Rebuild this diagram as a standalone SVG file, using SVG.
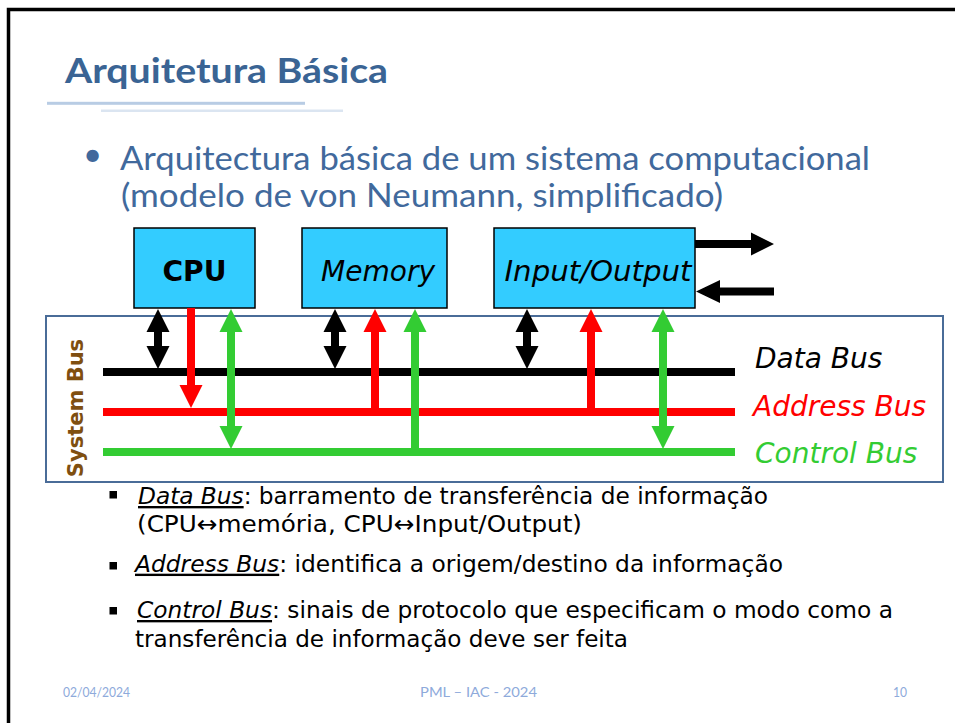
<svg xmlns="http://www.w3.org/2000/svg" width="955" height="723" viewBox="0 0 955 723">
  <style>
    .frame { fill: none; stroke: #000; stroke-width: 3.5; }
    .title { font-family: Lato, "Open Sans", sans-serif; font-weight: bold; font-size: 35px; fill: #3A6494; }
    .sub { font-family: Lato, "Open Sans", sans-serif; font-size: 33px; fill: #41699C; }
    .box { fill: #33CCFF; stroke: #000; stroke-width: 1.5; }
    .boxlabel { font-family: "DejaVu Sans", Verdana, sans-serif; font-size: 28px; fill: #000; text-anchor: middle; }
    .buslabel { font-family: "DejaVu Sans", Verdana, sans-serif; font-size: 28px; font-style: italic; }
    .item { font-family: "DejaVu Sans", Verdana, sans-serif; font-size: 23.5px; fill: #000; }
    .item .em { font-style: italic; text-decoration: underline; }
    .foot { font-family: Lato, "Open Sans", sans-serif; font-size: 13px; fill: #8EAADB; }
    .black { fill: #000; }
    .red { fill: #FF0000; }
    .green { fill: #33CC33; }
  </style>

  <!-- slide frame (only top and left edges fall inside the view) -->
  <rect class="frame" x="8.5" y="9.5" width="1000" height="800"/>

  <!-- title with its two rules -->
  <g id="title">
    <text class="title" x="65" y="83.3" textLength="323" lengthAdjust="spacingAndGlyphs">Arquitetura Básica</text>
    <rect x="47" y="101.8" width="258" height="3" fill="#B8CCE4"/>
    <rect x="101" y="109.5" width="242" height="2.5" fill="#DBE5F1"/>
  </g>

  <!-- heading bullet -->
  <g id="heading">
    <text class="sub" x="83" y="166">•</text>
    <text class="sub" x="120" y="170" textLength="750" lengthAdjust="spacingAndGlyphs">Arquitectura básica de um sistema computacional</text>
    <text class="sub" x="121" y="207" textLength="602" lengthAdjust="spacingAndGlyphs">(modelo de von Neumann, simplificado)</text>
  </g>

  <!-- system bus enclosure -->
  <g id="system-bus">
    <rect x="46" y="316" width="897" height="166" fill="none" stroke="#4A6C98" stroke-width="2"/>
    <text x="83" y="408" transform="rotate(-90 83 408)" text-anchor="middle" font-family="'DejaVu Sans', Verdana, sans-serif" font-weight="bold" font-size="21" fill="#7F4F10">System Bus</text>
  </g>

  <!-- components -->
  <g id="cpu">
    <rect class="box" x="134" y="228" width="121" height="80"/>
    <text class="boxlabel" x="194.5" y="281" font-weight="bold" textLength="64" lengthAdjust="spacingAndGlyphs">CPU</text>
  </g>
  <g id="memory">
    <rect class="box" x="302" y="228" width="145" height="80"/>
    <text class="boxlabel" x="378" y="281" font-style="italic" textLength="114" lengthAdjust="spacingAndGlyphs">Memory</text>
  </g>
  <g id="io">
    <rect class="box" x="494" y="228" width="201" height="80"/>
    <text class="boxlabel" x="598" y="281" font-style="italic" textLength="187" lengthAdjust="spacingAndGlyphs">Input/Output</text>
  </g>

  <!-- bus lines with labels -->
  <g id="data-bus">
    <rect class="black" x="103" y="368" width="632" height="8"/>
    <text class="buslabel" x="755" y="368" fill="#000">Data Bus</text>
  </g>
  <g id="address-bus">
    <rect class="red" x="103" y="408" width="632" height="8"/>
    <text class="buslabel" x="753" y="416" fill="#FF0000">Address Bus</text>
  </g>
  <g id="control-bus">
    <rect class="green" x="103" y="448" width="632" height="8"/>
    <text class="buslabel" x="755" y="463" fill="#33CC33">Control Bus</text>
  </g>

  <!-- connectors: block arrows between components and buses -->
  <g id="connectors">
    <!-- data (black, two-way) -->
    <polygon class="black" points="158,309 169.5,332 162,332 162,346 169.5,346 158,369 146.5,346 154,346 154,332 146.5,332"/>
    <polygon class="black" points="335,309 346.5,332 339,332 339,346 346.5,346 335,369 323.5,346 331,346 331,332 323.5,332"/>
    <polygon class="black" points="527,309 538.5,332 531,332 531,346 538.5,346 527,369 515.5,346 523,346 523,332 515.5,332"/>
    <!-- address (red, one-way) -->
    <polygon class="red" points="187,308 195,308 195,385 202.5,385 191,408 179.5,385 187,385"/>
    <polygon class="red" points="375,309 386.5,332 379,332 379,412 371,412 371,332 363.5,332"/>
    <polygon class="red" points="591,309 602.5,332 595,332 595,412 587,412 587,332 579.5,332"/>
    <!-- control (green) -->
    <polygon class="green" points="231,309 242.5,332 235,332 235,426 242.5,426 231,449 219.5,426 227,426 227,332 219.5,332"/>
    <polygon class="green" points="415,309 426.5,332 419,332 419,452 411,452 411,332 403.5,332"/>
    <polygon class="green" points="663,309 674.5,332 667,332 667,426 674.5,426 663,449 651.5,426 659,426 659,332 651.5,332"/>
    <!-- I/O external link -->
    <polygon class="black" points="695,240 751,240 751,232.5 774,244 751,255.5 751,248 695,248"/>
    <polygon class="black" points="696,291.5 720,280 720,287.5 774,287.5 774,295.5 720,295.5 720,303"/>
  </g>

  <!-- bus descriptions -->
  <g id="notes">
    <rect x="109.5" y="491" width="7.5" height="7.5"/>
    <text class="item" x="138" y="504" textLength="630" lengthAdjust="spacingAndGlyphs"><tspan class="em">Data Bus</tspan>: barramento de transferência de informação</text>
    <text class="item" x="137" y="531.5" textLength="445" lengthAdjust="spacingAndGlyphs">(CPU↔memória, CPU↔Input/Output)</text>
    <rect x="109.5" y="562" width="7.5" height="7.5"/>
    <text class="item" x="135" y="571.7" textLength="648" lengthAdjust="spacingAndGlyphs"><tspan class="em">Address Bus</tspan>: identifica a origem/destino da informação</text>
    <rect x="109.5" y="607" width="7.5" height="7.5"/>
    <text class="item" x="137" y="618" textLength="756" lengthAdjust="spacingAndGlyphs"><tspan class="em">Control Bus</tspan>: sinais de protocolo que especificam o modo como a</text>
    <text class="item" x="135" y="646.7" textLength="493" lengthAdjust="spacingAndGlyphs">transferência de informação deve ser feita</text>
  </g>

  <!-- footer -->
  <g id="footer">
    <text class="foot" x="63" y="697" textLength="67" lengthAdjust="spacingAndGlyphs">02/04/2024</text>
    <text class="foot" x="420" y="697" textLength="117" lengthAdjust="spacingAndGlyphs">PML – IAC - 2024</text>
    <text class="foot" x="893" y="697" textLength="14" lengthAdjust="spacingAndGlyphs">10</text>
  </g>
</svg>
